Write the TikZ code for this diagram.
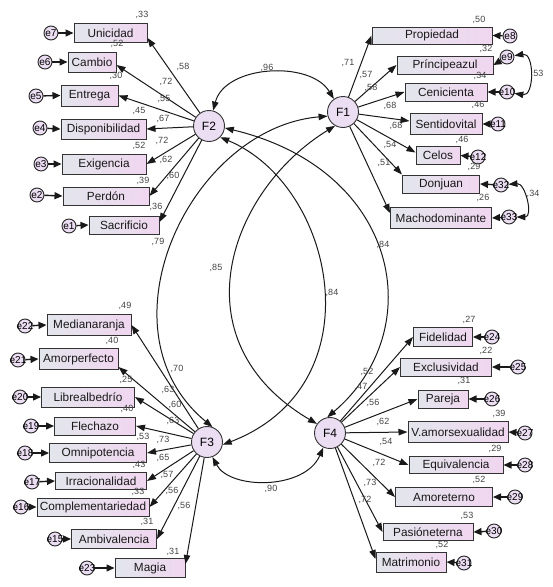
\documentclass[tikz,border=0pt]{standalone}
\usepackage{fontspec}
\setmainfont{Liberation Sans}
\usetikzlibrary{arrows.meta}
\definecolor{boxL}{HTML}{E3E6EC}
\definecolor{boxR}{HTML}{F0D6F0}
\definecolor{latF}{HTML}{EBDDF2}
\definecolor{lbl}{HTML}{444444}
\begin{document}
\begin{tikzpicture}[x=1pt,y=-1pt,
  obs/.style={draw=black!80, line width=1pt, left color=boxL, right color=boxR, inner sep=0pt, font=\fontsize{11.8}{13}\selectfont, text=black!90},
  bx/.style 2 args={obs, minimum width=#1pt, minimum height=#2pt},
  lat/.style={circle, draw=black!80, line width=0.9pt, fill=latF, minimum size=31pt, inner sep=0pt, font=\fontsize{12}{13}\selectfont},
  err/.style={circle, draw=black!85, line width=0.9pt, fill=latF, minimum size=14pt, inner sep=0pt,
    label={[font=\fontsize{10}{11}\selectfont, inner sep=0pt, text=black]center:#1}},
  val/.style={font=\fontsize{9}{10}\selectfont, text=lbl, inner sep=0pt},
  ld/.style={-{Triangle[length=9pt,width=6.5pt]}, line width=1pt, black!90},
  ea/.style={-{Triangle[length=8pt,width=7pt]}, line width=1.4pt, black!90},
  cv/.style={{Triangle[length=9pt,width=6.5pt]}-{Triangle[length=9pt,width=6.5pt]}, line width=1pt, black!90},
]
\fill[white] (0,0) rectangle (553,587);
\useasboundingbox (0,0) rectangle (553,587);

% latent factors
\node[lat] (F1) at (343,112) {F1};
\node[lat] (F2) at (209,126) {F2};
\node[lat] (F3) at (207,442) {F3};
\node[lat] (F4) at (330,433) {F4};

% F2 indicators
\node[bx={73}{19}] (unicidad) at (110.5,33) {Unicidad};
\node[bx={48}{20}] (cambio) at (92,62) {Cambio};
\node[bx={57}{21}] (entrega) at (89.5,95.5) {Entrega};
\node[bx={85}{20}] (dispon) at (103.5,129) {Disponibilidad};
\node[bx={84}{20}] (exig) at (104,164) {Exigencia};
\node[bx={86}{18}] (perdon) at (106,196) {Perdón};
\node[bx={70}{18}] (sacrif) at (124,225) {Sacrificio};

% F1 indicators
\node[bx={120}{17}] (propiedad) at (432,35.5) {Propiedad};
\node[bx={96}{18}] (principe) at (445,65) {Príncipeazul};
\node[bx={82}{18}] (ceni) at (446,92) {Cenicienta};
\node[bx={72}{21}] (senti) at (446,124) {Sentidovital};
\node[bx={44}{18}] (celos) at (438,155.5) {Celos};
\node[bx={77}{18}] (donjuan) at (441,184) {Donjuan};
\node[bx={101}{21}] (macho) at (441,218) {Machodominante};

% F3 indicators
\node[bx={84}{21}] (media) at (89,325) {Medianaranja};
\node[bx={79}{21}] (amorp) at (78.5,359) {Amorperfecto};
\node[bx={93}{20}] (libre) at (88,397) {Librealbedrío};
\node[bx={81}{18}] (flech) at (95,426) {Flechazo};
\node[bx={97}{19}] (omni) at (98,453) {Omnipotencia};
\node[bx={91}{17}] (irra) at (101,481) {Irracionalidad};
\node[bx={112}{18}] (compl) at (93,507) {Complementariedad};
\node[bx={85}{19}] (ambi) at (114,539) {Ambivalencia};
\node[bx={70}{19}] (magia) at (150,568) {Magia};

% F4 indicators
\node[bx={59}{19}] (fidel) at (443,337) {Fidelidad};
\node[bx={91}{18}] (exclu) at (446,367) {Exclusividad};
\node[bx={50}{18}] (pareja) at (443,399) {Pareja};
\node[bx={100}{21}] (vamor) at (458,432) {V.amorsexualidad};
\node[bx={94}{17}] (equiv) at (456,465) {Equivalencia};
\node[bx={97}{19}] (amoret) at (444,497) {Amoreterno};
\node[bx={90}{17}] (pasion) at (428,532) {Pasióneterna};
\node[bx={70}{20}] (matri) at (411,562) {Matrimonio};

% error terms
\node[err=e7] (e7) at (51,33) {};
\node[err=e6] (e6) at (45,62) {};
\node[err=e5] (e5) at (36,96) {};
\node[err=e4] (e4) at (40,128) {};
\node[err=e3] (e3) at (41,164) {};
\node[err=e2] (e2) at (37,195) {};
\node[err=e1] (e1) at (69,226) {};
\node[err=e8] (e8) at (510,36) {};
\node[err=e9] (e9) at (507,57) {};
\node[err=e10] (e10) at (507,92) {};
\node[err=e11] (e11) at (498,124) {};
\node[err=e12] (e12) at (478,157) {};
\node[err=e32] (e32) at (501,185) {};
\node[err=e33] (e33) at (509,217) {};
\node[err=e22] (e22) at (25,326) {};
\node[err=e21] (e21) at (18,360) {};
\node[err=e20] (e20) at (20,397) {};
\node[err=e19] (e19) at (31,426) {};
\node[err=e18] (e18) at (25,453) {};
\node[err=e17] (e17) at (32,482) {};
\node[err=e16] (e16) at (21,507) {};
\node[err=e15] (e15) at (55,539) {};
\node[err=e23] (e23) at (87,568) {};
\node[err=e24] (e24) at (492,337) {};
\node[err=e25] (e25) at (518,367) {};
\node[err=e26] (e26) at (492,399) {};
\node[err=e27] (e27) at (525,433) {};
\node[err=e28] (e28) at (525,465) {};
\node[err=e29] (e29) at (515,497) {};
\node[err=e30] (e30) at (494,531) {};
\node[err=e31] (e31) at (464,563) {};

% error arrows
\draw[ea] (e7) -- (unicidad.west);
\draw[ea] (e6) -- (cambio.west);
\draw[ea] (e5) -- (entrega.west);
\draw[ea] (e4) -- (dispon.west);
\draw[ea] (e3) -- (exig.west);
\draw[ea] (e2) -- (perdon.west);
\draw[ea] (e1) -- (sacrif.west);
\draw[ea] (e8) -- (propiedad.east);
\draw[ea] (e9) -- (principe.east);
\draw[ea] (e10) -- (ceni.east);
\draw[ea] (e11) -- (senti.east);
\draw[ea] (e12) -- (celos.east);
\draw[ea] (e32) -- (donjuan.east);
\draw[ea] (e33) -- (macho.east);
\draw[ea] (e22) -- (media.west);
\draw[ea] (e21) -- (amorp.west);
\draw[ea] (e20) -- (libre.west);
\draw[ea] (e19) -- (flech.west);
\draw[ea] (e18) -- (omni.west);
\draw[ea] (e17) -- (irra.west);
\draw[ea] (e16) -- (compl.west);
\draw[ea] (e15) -- (ambi.west);
\draw[ea] (e23) -- (magia.west);
\draw[ea] (e24) -- (fidel.east);
\draw[ea] (e25) -- (exclu.east);
\draw[ea] (e26) -- (pareja.east);
\draw[ea] (e27) -- (vamor.east);
\draw[ea] (e28) -- (equiv.east);
\draw[ea] (e29) -- (amoret.east);
\draw[ea] (e30) -- (pasion.east);
\draw[ea] (e31) -- (matri.east);

% error covariances
\draw[cv] (e9) to[out=10,in=-10,looseness=1.4] (e10);
\draw[cv] (e32) to[out=5,in=0,looseness=1.3] (e33);

% loadings F2
\draw[ld] (F2) -- ([yshift=-5pt]unicidad.east);
\draw[ld] (F2) -- ([yshift=-3pt]cambio.east);
\draw[ld] (F2) -- (entrega.east);
\draw[ld] (F2) -- (dispon.east);
\draw[ld] (F2) -- (exig.east);
\draw[ld] (F2) -- (perdon.east);
\draw[ld] (F2) -- ([yshift=3pt]sacrif.east);
% loadings F1
\draw[ld] (F1) -- (propiedad.west);
\draw[ld] (F1) -- (principe.west);
\draw[ld] (F1) -- (ceni.west);
\draw[ld] (F1) -- ([yshift=3pt]senti.west);
\draw[ld] (F1) -- ([yshift=3pt]celos.west);
\draw[ld] (F1) -- (donjuan.north west);
\draw[ld] (F1) -- ([yshift=-6pt]macho.north west);
% loadings F3
\draw[ld] (F3) -- (media.east);
\draw[ld] (F3) -- ([yshift=-8pt]amorp.east);
\draw[ld] (F3) -- (libre.east);
\draw[ld] (F3) -- (flech.east);
\draw[ld] (F3) -- (omni.east);
\draw[ld] (F3) -- (irra.east);
\draw[ld] (F3) -- (compl.east);
\draw[ld] (F3) -- (ambi.east);
\draw[ld] (F3) -- ([yshift=4pt]magia.east);
% loadings F4
\draw[ld] (F4) -- (fidel.west);
\draw[ld] (F4) -- (exclu.west);
\draw[ld] (F4) -- (pareja.west);
\draw[ld] (F4) -- (vamor.west);
\draw[ld] (F4) -- (equiv.west);
\draw[ld] (F4) -- (amoret.west);
\draw[ld] (F4) -- (pasion.west);
\draw[ld] (F4) -- ([yshift=3pt]matri.west);

% factor covariances
\draw[cv] (F2.75) .. controls (225,65) and (310,60) .. (F1.125);
\draw[cv] (F1.195) .. controls (190,128) and (95,330) .. (F3.70);
\draw[cv] (F1.240) .. controls (230,190) and (175,340) .. (F4.145);
\draw[cv] (F2.315) .. controls (335,185) and (378,385) .. (F3.350);
\draw[cv] (F2.353) .. controls (400,170) and (430,330) .. (F4.100);
\draw[cv] (F3.290) .. controls (230,490) and (305,490) .. (F4.245);

% R2 values F2
\node[val] (r7) at (142,15) {,33};
\node[val] (r6) at (117,44) {,52};
\node[val] (r5) at (116,76) {,30};
\node[val] (r4) at (139,111) {,45};
\node[val] (r3) at (139,146) {,52};
\node[val] (r2) at (143,181) {,39};
\node[val] (r1) at (156,207) {,36};
% loadings F2
\node[val] (l7) at (183,67) {,58};
\node[val] (l6) at (166,82) {,72};
\node[val] (l5) at (164,99) {,55};
\node[val] (l4) at (163,119) {,67};
\node[val] (l3) at (162,141) {,72};
\node[val] (l2) at (166,160) {,62};
\node[val] (l1) at (173,176) {,60};
% R2 F1
\node[val] (r8) at (479,20) {,50};
\node[val] (r9) at (486,49) {,32};
\node[val] (r10) at (480,76) {,34};
\node[val] (r11) at (478,105) {,46};
\node[val] (r12) at (462,140) {,46};
\node[val] (r32) at (474,167) {,29};
\node[val] (r33) at (483,198) {,26};
% loadings F1
\node[val] (l8) at (348,63) {,71};
\node[val] (l9) at (366,75) {,57};
\node[val] (l10) at (371,88) {,58};
\node[val] (l11) at (390,106) {,68};
\node[val] (l12) at (396,126) {,68};
\node[val] (l32) at (390,145) {,54};
\node[val] (l33) at (384,163) {,51};
\node[val] (c910) at (537,74) {,53};
\node[val] (c3233) at (533,194) {,34};
% R2 F3
\node[val] (r22) at (125,306) {,49};
\node[val] (r21) at (112,341) {,40};
\node[val] (r20) at (126,380) {,25};
\node[val] (r19) at (127,409) {,40};
\node[val] (r18) at (143,437) {,53};
\node[val] (r17) at (139,465) {,43};
\node[val] (r16) at (138,492) {,33};
\node[val] (r15) at (147,522) {,31};
\node[val] (r23) at (173,552) {,31};
% loadings F3
\node[val] (l22) at (177,369) {,70};
\node[val] (l21) at (168,390) {,63};
\node[val] (l20) at (175,405) {,60};
\node[val] (l19) at (173,421) {,63};
\node[val] (l18) at (163,440) {,73};
\node[val] (l17) at (163,458) {,65};
\node[val] (l16) at (167,475) {,57};
\node[val] (l15) at (172,491) {,56};
\node[val] (l23) at (184,506) {,56};
% R2 F4
\node[val] (r24) at (469,320) {,27};
\node[val] (r25) at (486,351) {,22};
\node[val] (r26) at (464,381) {,31};
\node[val] (r27) at (499,414) {,39};
\node[val] (r28) at (495,449) {,29};
\node[val] (r29) at (479,480) {,52};
\node[val] (r30) at (467,516) {,53};
\node[val] (r31) at (442,545) {,52};
% loadings F4
\node[val] (l24) at (367,372) {,52};
\node[val] (l25) at (361,387) {,47};
\node[val] (l26) at (373,403) {,56};
\node[val] (l27) at (383,422) {,62};
\node[val] (l28) at (386,442) {,54};
\node[val] (l29) at (379,463) {,72};
\node[val] (l30) at (370,483) {,73};
\node[val] (l31) at (365,500) {,72};
% factor covariances
\node[val] (c12) at (267,68) {,96};
\node[val] (c13) at (158,242) {,79};
\node[val] (c14) at (216,268) {,85};
\node[val] (c23) at (332,293) {,84};
\node[val] (c24) at (383,245) {,84};
\node[val] (c34) at (271,489) {,90};
\end{tikzpicture}
\end{document}
